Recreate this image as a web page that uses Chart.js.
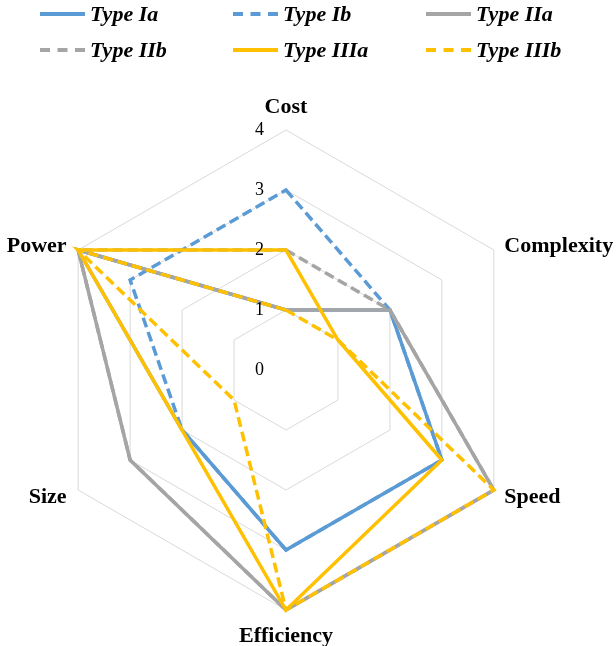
<!DOCTYPE html>
<html>
<head>
<meta charset="utf-8">
<script src="https://cdn.jsdelivr.net/npm/chart.js@4/dist/chart.umd.min.js"></script>
<style>
    html, body { margin: 0; padding: 0; background: #fff; }
    #wrap { position: relative; width: 616px; height: 646px; }
    #chart { position: absolute; left: 0; top: 0; }
    .legend { position: absolute; left: 0; top: 0; width: 616px; height: 70px; font: italic bold 22px "Liberation Serif", "Times New Roman", serif; color: #000; }
    .item { position: absolute; height: 22px; line-height: 22px; white-space: nowrap; }
    .item svg { position: absolute; left: 0; top: 8px; }
    .item span { position: absolute; left: 50px; top: 0; }
</style>
</head>
<body>
<div id="wrap">
    <canvas id="chart" width="616" height="646"></canvas>
    <div class="legend" id="legend"></div>
</div>
<script>
const axes = ['Cost', 'Complexity', 'Speed', 'Efficiency', 'Size', 'Power'];
const tickValues = [0, 1, 2, 3, 4];

const seriesNames = ['Type Ia', 'Type Ib', 'Type IIa', 'Type IIb', 'Type IIIa', 'Type IIIb'];
const typeIa = [1, 2, 3, 3, 2, 4];
const typeIb = [3, 2, 3, 3, 2, 3];
const typeIIa = [1, 2, 4, 4, 3, 4];
const typeIIb = [2, 2, 4, 4, 3, 4];
const typeIIIa = [2, 1, 3, 4, 2, 4];
const typeIIIb = [1, 1, 4, 4, 1, 4];
const seriesValues = [typeIa, typeIb, typeIIa, typeIIb, typeIIIa, typeIIIb];

const seriesColors = ['#5B9BD5', '#5B9BD5', '#A5A5A5', '#A5A5A5', '#FFC000', '#FFC000'];
const seriesDashed = [false, true, false, true, false, true];

const LINE_W = 3.5;
const DASH = [10, 5];

// legend, 3 columns x 2 rows like the excel original
const legendEl = document.getElementById('legend');
const colX = [40, 233, 426];
const rowY = [3, 39];
seriesNames.forEach((name, i) => {
    const div = document.createElement('div');
    div.className = 'item';
    div.style.left = colX[i % 3] + 'px';
    div.style.top = rowY[Math.floor(i / 3)] + 'px';
    const dash = seriesDashed[i] ? 'stroke-dasharray="10 7.5"' : '';
    div.innerHTML = `<svg width="46" height="6"><line x1="0" y1="3" x2="45" y2="3" stroke="${seriesColors[i]}" stroke-width="4" ${dash}/></svg><span>${name}</span>`;
    legendEl.appendChild(div);
});

// tick labels left of the vertical axis and point labels, drawn like excel places them
const labelPlugin = {
    id: 'excelLabels',
    afterDraw(chart) {
        const scale = chart.scales.r;
        const ctx = chart.ctx;
        ctx.save();
        ctx.fillStyle = '#000';

        ctx.font = '18px "Liberation Serif", "Times New Roman", serif';
        ctx.textAlign = 'right';
        ctx.textBaseline = 'middle';
        for (const v of tickValues) {
            const y = scale.yCenter - scale.getDistanceFromCenterForValue(v);
            ctx.fillText(String(v), scale.xCenter - 22, y);
        }

        ctx.font = 'bold 22px "Liberation Serif", "Times New Roman", serif';
        ctx.textBaseline = 'alphabetic';
        const pad = 11;
        axes.forEach((label, i) => {
            const p = scale.getPointPosition(i, scale.drawingArea + pad);
            const dx = p.x - scale.xCenter;
            if (Math.abs(dx) < 1) {
                ctx.textAlign = 'center';
                if (p.y < scale.yCenter) ctx.fillText(label, p.x, p.y - 6);
                else ctx.fillText(label, p.x, p.y + 21);
            } else {
                ctx.textAlign = dx > 0 ? 'left' : 'right';
                ctx.fillText(label, p.x + (dx > 0 ? 1 : -2), p.y + 7.5);
            }
        });
        ctx.restore();
    }
};

const datasets = seriesNames.map((name, i) => ({
    label: name,
    data: seriesValues[i],
    borderColor: seriesColors[i],
    backgroundColor: seriesColors[i],
    borderWidth: LINE_W,
    borderDash: seriesDashed[i] ? DASH : [],
    pointRadius: 0,
    pointHoverRadius: 0,
    fill: false,
    tension: 0,
    clip: false,
    order: seriesNames.length - i, // later series on top, as in excel
}));

new Chart(document.getElementById('chart').getContext('2d'), {
    type: 'radar',
    data: { labels: axes, datasets },
    options: {
        responsive: false,
        animation: false,
        layout: { padding: { left: 46, right: 90, top: 130, bottom: 36 } },
        plugins: {
            legend: { display: false },
            tooltip: { enabled: false },
        },
        scales: {
            r: {
                min: 0,
                max: 4,
                ticks: { stepSize: 1, display: false },
                grid: { color: '#D9D9D9', lineWidth: 1 },
                angleLines: { display: false },
                pointLabels: { display: false },
            },
        },
    },
    plugins: [labelPlugin],
});
</script>
</body>
</html>
